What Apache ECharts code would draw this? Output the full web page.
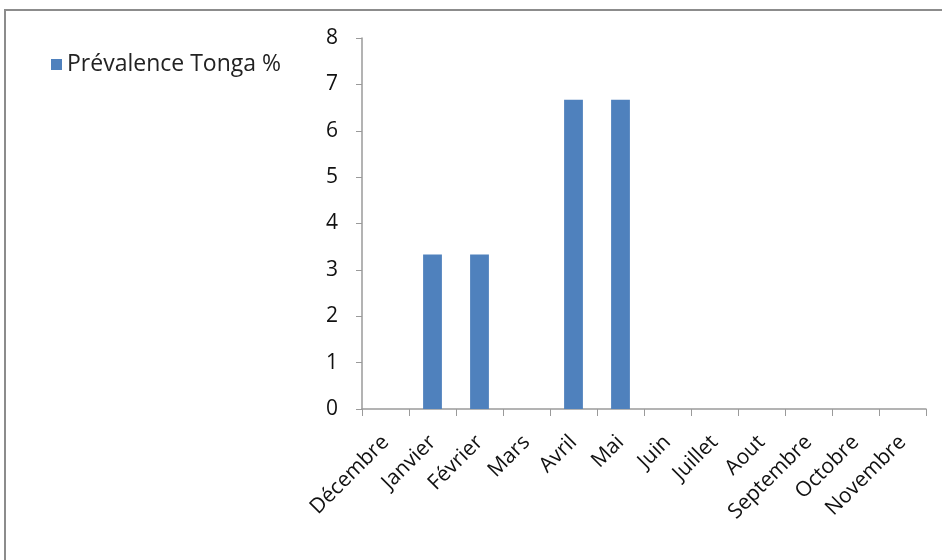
<!DOCTYPE html>
<html>
<head>
<meta charset="utf-8">
<script src="https://cdn.jsdelivr.net/npm/echarts@6/dist/echarts.min.js"></script>
<style>
  html, body { margin: 0; padding: 0; background: #fff; }
  #chart { width: 942px; height: 560px; }
</style>
</head>
<body>
<div id="chart"></div>
<script>
// mois et valeurs
const months = ['Décembre', 'Janvier', 'Février', 'Mars', 'Avril', 'Mai', 'Juin', 'Juillet', 'Aout', 'Septembre', 'Octobre', 'Novembre']
const prevalence = [0, 3.33, 3.33, 0, 6.67, 6.67, 0, 0, 0, 0, 0, 0]
const seriesName = 'Prévalence Tonga %'

const font = 'Open Sans, Liberation Sans, sans-serif'
const chart = echarts.init(document.getElementById('chart'))
chart.setOption({
  animation: false,
  textStyle: { fontFamily: font },
  graphic: [{
    type: 'rect',
    shape: { x: 5, y: 10, width: 960, height: 600 },
    style: { fill: 'none', stroke: '#8c8c8c', lineWidth: 2 }
  }],
  legend: {
    left: 46,
    top: 48,
    icon: 'rect',
    itemWidth: 11,
    itemHeight: 11,
    itemGap: 8,
    textStyle: { fontSize: 23, color: '#222', fontFamily: font },
    data: [seriesName]
  },
  grid: { left: 362, top: 38, right: 16, bottom: 151 },
  xAxis: {
    type: 'category',
    data: months,
    boundaryGap: true,
    axisLine: { lineStyle: { color: '#9a9a9a', width: 1.5 } },
    axisTick: { show: true, length: 7, alignWithLabel: false, lineStyle: { color: '#9a9a9a' } },
    axisLabel: { rotate: 45, interval: 0, fontSize: 21, color: '#111', margin: 30, fontFamily: font }
  },
  yAxis: {
    type: 'value',
    min: 0,
    max: 8,
    interval: 1,
    axisLine: { show: true, lineStyle: { color: '#9a9a9a', width: 1.5 } },
    axisTick: { show: true, length: 6, lineStyle: { color: '#9a9a9a' } },
    splitLine: { show: false },
    axisLabel: { fontSize: 21, color: '#111', margin: 24, fontFamily: font }
  },
  series: [{
    name: seriesName,
    type: 'bar',
    barWidth: '40%',
    itemStyle: { color: '#4F81BD' },
    data: prevalence
  }]
})
</script>
</body>
</html>
